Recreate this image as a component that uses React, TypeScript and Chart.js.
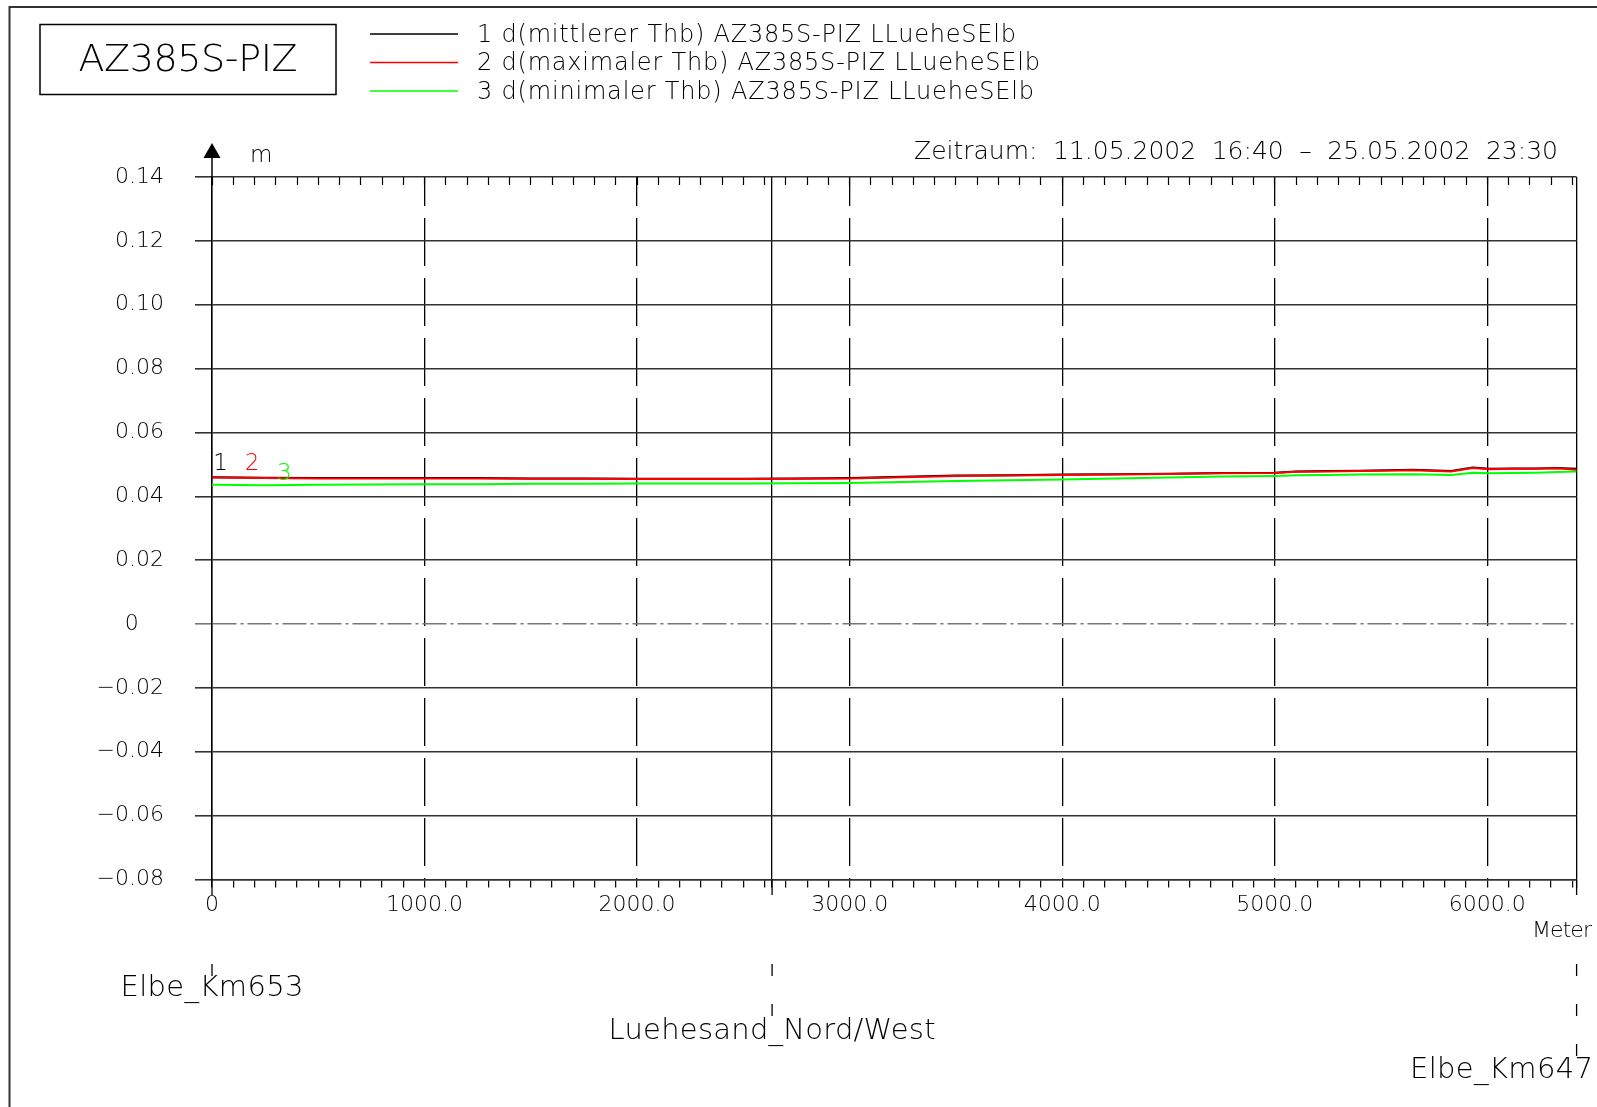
import React, { useEffect, useRef } from 'react';
import { Chart, registerables } from 'chart.js';

Chart.register(...registerables);

// ---------------- data ----------------
const DISTANCE_M = [0, 250, 500, 750, 1000, 1250, 1500, 1750, 2000, 2250, 2500, 2750, 3000, 3250, 3500, 3750, 4000, 4250, 4500, 4750, 5000, 5100, 5250, 5400, 5650, 5830, 5930, 6010, 6120, 6230, 6330, 6420];
const MEAN_THB = [0.0460, 0.0458, 0.0457, 0.0457, 0.0457, 0.0457, 0.0456, 0.0456, 0.0455, 0.0455, 0.0455, 0.0456, 0.0457, 0.0461, 0.0465, 0.0466, 0.0468, 0.0469, 0.0471, 0.0473, 0.0474, 0.0478, 0.0479, 0.0480, 0.0483, 0.0479, 0.0490, 0.0486, 0.0487, 0.0487, 0.0489, 0.0486];
const MAX_THB = [0.0459, 0.0457, 0.0456, 0.0456, 0.0456, 0.0456, 0.0455, 0.0455, 0.0454, 0.0454, 0.0454, 0.0455, 0.0456, 0.0460, 0.0464, 0.0465, 0.0467, 0.0468, 0.0470, 0.0472, 0.0473, 0.0477, 0.0478, 0.0479, 0.0482, 0.0478, 0.0489, 0.0485, 0.0486, 0.0486, 0.0488, 0.0483];
const MIN_THB = [0.0436, 0.0435, 0.0436, 0.0437, 0.0438, 0.0438, 0.0439, 0.0439, 0.0440, 0.0440, 0.0440, 0.0441, 0.0442, 0.0445, 0.0448, 0.0450, 0.0453, 0.0456, 0.0459, 0.0462, 0.0464, 0.0466, 0.0467, 0.0468, 0.0469, 0.0467, 0.0474, 0.0472, 0.0473, 0.0474, 0.0476, 0.0478];

const SERIES_LABELS = [
  'd(mittlerer Thb) AZ385S-PIZ LLueheSElb',
  'd(maximaler Thb) AZ385S-PIZ LLueheSElb',
  'd(minimaler Thb) AZ385S-PIZ LLueheSElb',
];
const SERIES_COLORS = ['#000000', '#ff0000', '#00ff00'];

const Y_TICKS = [-0.08, -0.06, -0.04, -0.02, 0, 0.02, 0.04, 0.06, 0.08, 0.10, 0.12, 0.14];
const Y_TICK_LABELS = ['\u22120.08', '\u22120.06', '\u22120.04', '\u22120.02', '0', '0.02', '0.04', '0.06', '0.08', '0.10', '0.12', '0.14'];

const X_MAJOR = [0, 1000, 2000, 3000, 4000, 5000, 6000];
const X_TICK_LABELS = ['0', '1000.0', '2000.0', '3000.0', '4000.0', '5000.0', '6000.0'];
const X_MINOR_STEP = 100;
const X_MAX = 6420;

const LOCATION_M = [0, 2635, 6420];
const LOCATION_NAMES = ['Elbe_Km653', 'Luehesand_Nord/West', 'Elbe_Km647'];

const TITLE = 'AZ385S-PIZ';
const PERIOD = 'Zeitraum: 11.05.2002 16:40 \u2013 25.05.2002 23:30';
const Y_UNIT = 'm';
const X_UNIT = 'Meter';

// ---------------- helpers ----------------
const FONT_FAMILY = '"DejaVu Sans", "Liberation Sans", sans-serif';
const FONT_WEIGHT = '200';

function drawText(
  ctx: CanvasRenderingContext2D,
  s: string,
  x: number,
  y: number,
  size: number,
  align: CanvasTextAlign,
  color: string,
  fitWidth?: number,
  mode: 'letters' | 'words' = 'letters'
) {
  ctx.save();
  ctx.font = `${FONT_WEIGHT} ${size}px ${FONT_FAMILY}`;
  ctx.textAlign = align;
  ctx.textBaseline = 'middle';
  ctx.fillStyle = color;
  const anyCtx = ctx as any;
  let ls = 0;
  if (fitWidth) {
    anyCtx.letterSpacing = '0px';
    anyCtx.wordSpacing = '0px';
    const w = ctx.measureText(s).width;
    if (mode === 'words') {
      const spaces = (s.match(/ /g) || []).length;
      anyCtx.wordSpacing = `${(fitWidth - w) / Math.max(1, spaces)}px`;
    } else {
      ls = (fitWidth - w) / Math.max(1, s.length - 1);
      anyCtx.letterSpacing = `${ls}px`;
    }
  }
  let dx = 0;
  if (align === 'right') dx = ls;
  else if (align === 'center') dx = ls / 2;
  ctx.fillText(s, x + dx, y);
  anyCtx.letterSpacing = '0px';
  anyCtx.wordSpacing = '0px';
  ctx.restore();
}

const isZero = (v: any) => typeof v === 'number' && Math.abs(v) < 1e-9;
const isMajorX = (v: any) => typeof v === 'number' && (X_MAJOR.includes(v) || LOCATION_M.includes(v));
const isDashedX = (v: any) => typeof v === 'number' && X_MAJOR.includes(v) && v !== 0;

const decorPlugin = {
  id: 'decor',
  afterDraw(chart: any) {
    const ctx: CanvasRenderingContext2D = chart.ctx;
    const xs = chart.scales.x;
    const ys = chart.scales.y;
    const area = chart.chartArea;
    ctx.save();

    // outer frame (top + left)
    ctx.strokeStyle = '#333';
    ctx.lineWidth = 2;
    ctx.beginPath();
    ctx.moveTo(9.5, 1107);
    ctx.lineTo(9.5, 7);
    ctx.lineTo(1597, 7);
    ctx.stroke();

    // title box
    ctx.strokeStyle = '#000';
    ctx.lineWidth = 1.5;
    ctx.strokeRect(40, 24.5, 296, 70);
    drawText(ctx, TITLE, 188, 61, 38, 'center', '#000', 219);

    // legend
    const legendWidths = [539, 563, 557];
    chart.data.datasets.forEach((ds: any, i: number) => {
      const y = 34 + i * 28.5;
      ctx.strokeStyle = ds.borderColor;
      ctx.lineWidth = 1.5;
      ctx.beginPath();
      ctx.moveTo(370, y);
      ctx.lineTo(458, y);
      ctx.stroke();
      drawText(ctx, `${i + 1} ${ds.label}`, 477, y + 1.5, 24, 'left', '#000', legendWidths[i]);
    });

    // period
    drawText(ctx, PERIOD, 1558, 152, 25, 'right', '#000', 644, 'words');

    // y axis arrow + unit
    const x0 = xs.getPixelForValue(0);
    ctx.strokeStyle = '#000';
    ctx.lineWidth = 1.5;
    ctx.beginPath();
    ctx.moveTo(x0, area.top);
    ctx.lineTo(x0, 156);
    ctx.stroke();
    ctx.fillStyle = '#000';
    ctx.beginPath();
    ctx.moveTo(x0, 143);
    ctx.lineTo(x0 - 8.5, 158);
    ctx.lineTo(x0 + 8.5, 158);
    ctx.closePath();
    ctx.fill();
    drawText(ctx, Y_UNIT, 250, 156, 23, 'left', '#000');

    // x unit
    drawText(ctx, X_UNIT, 1592, 931, 22, 'right', '#000', 60);

    // location markers
    const nameWidths = [183, 327, 183];
    const nameY = [988, 1031, 1070];
    LOCATION_M.forEach((m, i) => {
      const px = xs.getPixelForValue(m);
      ctx.strokeStyle = '#000';
      ctx.lineWidth = 1.3;
      ctx.beginPath();
      ctx.moveTo(px, area.bottom);
      ctx.lineTo(px, 895);
      ctx.stroke();
      const dashes = i + 1;
      for (let k = 0; k < dashes; k++) {
        const y1 = 964 + k * 40;
        ctx.beginPath();
        ctx.moveTo(px, y1);
        ctx.lineTo(px, y1 + 12);
        ctx.stroke();
      }
      const last = i === LOCATION_M.length - 1;
      drawText(ctx, LOCATION_NAMES[i], last ? 1593 : px, nameY[i], 29, last ? 'right' : 'center', '#000', nameWidths[i]);
    });

    // series identifiers near the start of the curves
    const markX = [40, 188, 340];
    const markDy = [-13, -13, -11];
    chart.data.datasets.forEach((ds: any, i: number) => {
      const px = xs.getPixelForValue(markX[i]);
      const py = ys.getPixelForValue(ds.data[0].y) + markDy[i];
      drawText(ctx, String(i + 1), px, py, 23, 'center', ds.borderColor);
    });

    ctx.restore();
  },
};

export default function App() {
  const ref = useRef<HTMLCanvasElement>(null);

  useEffect(() => {
    const canvas = ref.current;
    if (!canvas) return;
    const seriesValues = [MEAN_THB, MAX_THB, MIN_THB];
    const chart = new Chart(canvas, {
      type: 'line',
      data: {
        datasets: seriesValues.map((vals, i) => ({
          label: SERIES_LABELS[i],
          data: DISTANCE_M.map((x, j) => ({ x, y: vals[j] })),
          borderColor: SERIES_COLORS[i],
          backgroundColor: SERIES_COLORS[i],
          borderWidth: 2,
          pointRadius: 0,
          tension: 0,
          fill: false,
          order: i === 1 ? 0 : i === 0 ? 1 : 2,
        })),
      },
      options: {
        responsive: false,
        devicePixelRatio: 1,
        animation: false,
        events: [],
        layout: { padding: { left: 0, right: 20.4, top: 167, bottom: 167.5 } },
        plugins: {
          legend: { display: false },
          title: { display: false },
          tooltip: { enabled: false },
        },
        scales: {
          x: {
            type: 'linear',
            position: 'bottom',
            min: 0,
            max: X_MAX,
            afterBuildTicks: (scale: any) => {
              const vals: number[] = [];
              for (let v = 0; v <= X_MAX; v += X_MINOR_STEP) vals.push(v);
              LOCATION_M.forEach((m) => { if (!vals.includes(m)) vals.push(m); });
              vals.sort((a, b) => a - b);
              scale.ticks = vals.map((value) => ({ value }));
            },
            afterFit: (scale: any) => { scale.height = 60; },
            ticks: {
              autoSkip: false,
              maxRotation: 0,
              minRotation: 0,
              padding: 5,
              color: '#000',
              font: { family: FONT_FAMILY, size: 22, weight: FONT_WEIGHT as any },
              callback: (value: any) => {
                const i = X_MAJOR.indexOf(Number(value));
                return i >= 0 ? X_TICK_LABELS[i] : '';
              },
            },
            grid: {
              drawOnChartArea: true,
              drawTicks: true,
              tickLength: 8,
              tickColor: '#000',
              tickWidth: 1.2,
              color: (c: any) => (isMajorX(c.tick?.value) ? '#000' : 'rgba(0,0,0,0)'),
              lineWidth: 1.3,
            },
            border: {
              display: true,
              color: '#333',
              width: 1.6,
              dash: (c: any) => (isDashedX(c.tick?.value) ? [48, 12] : []),
              dashOffset: 19,
            },
          },
          xTop: {
            type: 'linear',
            position: 'top',
            min: 0,
            max: X_MAX,
            afterBuildTicks: (scale: any) => {
              const vals: number[] = [];
              for (let v = 0; v <= X_MAX; v += X_MINOR_STEP) vals.push(v);
              scale.ticks = vals.map((value) => ({ value }));
            },
            afterFit: (scale: any) => { scale.height = 10; },
            ticks: { display: false },
            grid: {
              drawOnChartArea: false,
              drawTicks: true,
              tickLength: -8,
              tickColor: '#000',
              tickWidth: 1.2,
            },
            border: { display: false },
          },
          y: {
            type: 'linear',
            position: 'left',
            min: Y_TICKS[0],
            max: Y_TICKS[Y_TICKS.length - 1],
            afterBuildTicks: (scale: any) => {
              scale.ticks = Y_TICKS.map((value) => ({ value }));
            },
            afterFit: (scale: any) => { scale.width = 212; },
            ticks: {
              padding: 31,
              color: '#000',
              font: { family: FONT_FAMILY, size: 22, weight: FONT_WEIGHT as any },
              callback: (value: any) => {
                let best = 0;
                Y_TICKS.forEach((t, i) => { if (Math.abs(t - Number(value)) < Math.abs(Y_TICKS[best] - Number(value))) best = i; });
                const lab = Y_TICK_LABELS[best];
                return lab === '0' ? lab + '   \u2009' : lab;
              },
            },
            grid: {
              drawOnChartArea: true,
              drawTicks: true,
              tickLength: 17,
              color: (c: any) => (isZero(c.tick?.value) ? '#777' : '#333'),
              tickColor: (c: any) => (isZero(c.tick?.value) ? '#777' : '#333'),
              lineWidth: 1.6,
              tickWidth: 1.6,
              tickBorderDash: (c: any) => (isZero(c.tick?.value) ? [24, 4, 3, 4] : []),
            },
            border: {
              display: true,
              color: '#000',
              width: 1.5,
              dash: (c: any) => (isZero(c.tick?.value) ? [24, 4, 3, 4] : []),
            },
          },
        },
      } as any,
      plugins: [decorPlugin],
    });
    return () => chart.destroy();
  }, []);

  return (
    <div style={{ position: 'fixed', left: 0, top: 0, width: 1597, height: 1107, background: '#ffffff' }}>
      <canvas ref={ref} width={1597} height={1107} style={{ display: 'block', width: 1597, height: 1107 }} />
    </div>
  );
}
